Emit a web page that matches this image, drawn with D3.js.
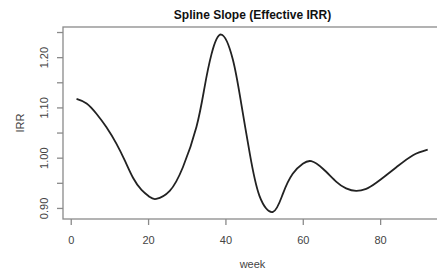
<!DOCTYPE html>
<html><head><meta charset="utf-8">
<script src="https://cdn.jsdelivr.net/npm/d3@7"></script>
<style>body{margin:0;background:#fff;}svg{display:block;font-family:"Liberation Sans",Arial,sans-serif;}</style>
</head><body>
<svg id="c" width="437" height="271"></svg>
<script>
const weeks = [1.5, 4.1, 6.6, 9.2, 11.8, 14.0, 16.1, 18.3, 20.4, 22.1, 25.6, 29.0, 32.5, 34.6, 36.4, 38.9, 41.9, 44.1, 46.3, 48.8, 52.3, 54.9, 57.4, 60.0, 62.2, 65.2, 68.7, 71.2, 73.8, 76.4, 79.0, 84.2, 88.5, 92.3];
const irr   = [1.117, 1.108, 1.088, 1.061, 1.028, 0.994, 0.960, 0.936, 0.922, 0.918, 0.934, 0.981, 1.061, 1.140, 1.206, 1.245, 1.196, 1.107, 1.008, 0.924, 0.892, 0.929, 0.968, 0.988, 0.993, 0.978, 0.952, 0.939, 0.934, 0.938, 0.950, 0.981, 1.005, 1.016];
const xTicks = [0, 20, 40, 60, 80];
const yTicks = [0.90, 0.95, 1.00, 1.05, 1.10, 1.15, 1.20, 1.25];
const yLabels = ["0.90", "1.00", "1.10", "1.20"];

const svg = d3.select("#c");
const L = 63, R = 442, T = 27, B = 219;
const x = d3.scaleLinear().domain([-2, 96]).range([L, R]);
const y = d3.scaleLinear().domain([0.878, 1.26]).range([B, T]);
const axisCol = "#8a8a8a", textCol = "#444";

svg.append("rect").attr("x", L).attr("y", T).attr("width", R - L).attr("height", B - T)
  .attr("fill", "none").attr("stroke", axisCol).attr("stroke-width", 1.3);

const xa = svg.append("g").attr("transform", `translate(0,${B})`)
  .call(d3.axisBottom(x).tickValues(xTicks).tickSize(6).tickPadding(11).tickFormat(d3.format("d")));
xa.select(".domain").remove();
xa.selectAll("line").attr("stroke", axisCol).attr("stroke-width", 1.3);
xa.selectAll("text").attr("fill", textCol).attr("font-size", 11).attr("font-family", "Liberation Sans, Arial, sans-serif");

const ya = svg.append("g").attr("transform", `translate(${L},0)`)
  .call(d3.axisLeft(y).tickValues(yTicks).tickSize(6).tickFormat(d => {
    const s = d.toFixed(2); return yLabels.includes(s) ? s : "";
  }));
ya.select(".domain").remove();
ya.selectAll("line").attr("stroke", axisCol).attr("stroke-width", 1.3);
ya.selectAll("text").attr("fill", textCol).attr("font-size", 11)
  .attr("font-family", "Liberation Sans, Arial, sans-serif")
  .attr("text-anchor", "middle").attr("x", 0).attr("y", 0).attr("dy", "0.35em")
  .attr("transform", "translate(-19,0) rotate(-90)");

svg.append("path").datum(weeks.map((w, i) => [w, irr[i]]))
  .attr("fill", "none").attr("stroke", "#222").attr("stroke-width", 1.8)
  .attr("d", d3.line().x(d => x(d[0])).y(d => y(d[1])).curve(d3.curveNatural));

svg.append("text").attr("x", (L + R) / 2).attr("y", 19).attr("text-anchor", "middle")
  .attr("font-weight", "bold").attr("font-size", 12).attr("fill", "#111").text("Spline Slope (Effective IRR)");
svg.append("text").attr("x", (L + R) / 2).attr("y", 268).attr("text-anchor", "middle")
  .attr("font-size", 11).attr("fill", textCol).text("week");
svg.append("text").attr("transform", `translate(24,${(T + B) / 2}) rotate(-90)`).attr("text-anchor", "middle")
  .attr("font-size", 11).attr("fill", textCol).text("IRR");
</script>
</body></html>
